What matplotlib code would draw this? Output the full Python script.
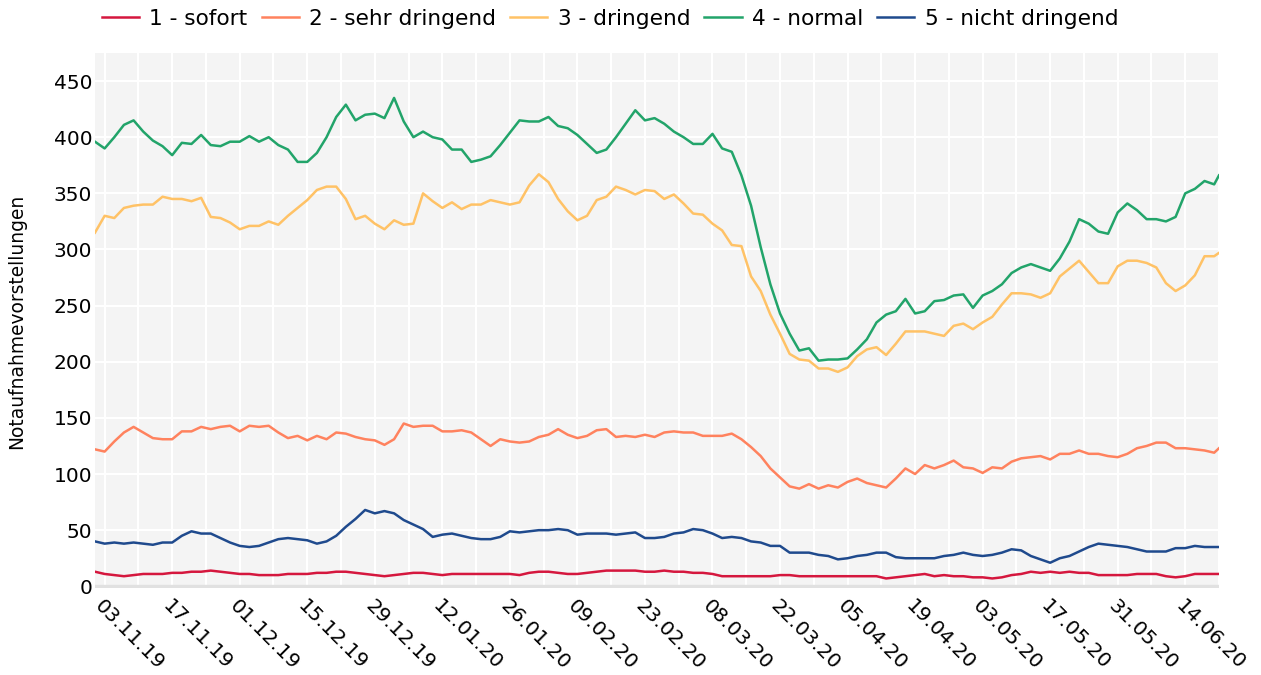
import matplotlib
matplotlib.use("Agg")
import matplotlib.pyplot as plt
import pandas as pd

# every second day, plus the last day of the series
dates = list(pd.date_range("2019-11-01", "2020-06-20", freq="2D")) + [pd.Timestamp("2020-06-21")]

sofort = [
    13, 11, 10, 9, 10, 11, 11, 11, 12, 12, 13, 13, 14, 13, 12,          # Nov
    11, 11, 10, 10, 10, 11, 11, 11, 12, 12, 13, 13, 12, 11, 10, 9,      # Dec
    10, 11, 12, 12, 11, 10, 11, 11, 11, 11, 11, 11, 11, 10, 12,         # Jan
    13, 13, 12, 11, 11, 12, 13, 14, 14, 14, 14, 13, 13, 14, 13,         # Feb
    13, 12, 12, 11, 9, 9, 9, 9, 9, 9, 10, 10, 9, 9, 9,                  # Mar
    9, 9, 9, 9, 9, 9, 7, 8, 9, 10, 11, 9, 10, 9, 9,                     # Apr
    8, 8, 7, 8, 10, 11, 13, 12, 13, 12, 13, 12, 12, 10, 10, 10,         # May
    10, 11, 11, 11, 9, 8, 9, 11, 11, 11, 11,                            # Jun
]
sehr_dringend = [
    122, 120, 129, 137, 142, 137, 132, 131, 131, 138, 138, 142, 140, 142, 143,
    138, 143, 142, 143, 137, 132, 134, 130, 134, 131, 137, 136, 133, 131, 130, 126,
    131, 145, 142, 143, 143, 138, 138, 139, 137, 131, 125, 131, 129, 128, 129,
    133, 135, 140, 135, 132, 134, 139, 140, 133, 134, 133, 135, 133, 137, 138,
    137, 137, 134, 134, 134, 136, 131, 124, 116, 105, 97, 89, 87, 91, 87,
    90, 88, 93, 96, 92, 90, 88, 96, 105, 100, 108, 105, 108, 112, 106,
    105, 101, 106, 105, 111, 114, 115, 116, 113, 118, 118, 121, 118, 118, 116, 115,
    118, 123, 125, 128, 128, 123, 123, 122, 121, 119, 123,
]
dringend = [
    315, 330, 328, 337, 339, 340, 340, 347, 345, 345, 343, 346, 329, 328, 324,
    318, 321, 321, 325, 322, 330, 337, 344, 353, 356, 356, 345, 327, 330, 323, 318,
    326, 322, 323, 350, 343, 337, 342, 336, 340, 340, 344, 342, 340, 342, 357,
    367, 360, 345, 334, 326, 330, 344, 347, 356, 353, 349, 353, 352, 345, 349,
    341, 332, 331, 323, 317, 304, 303, 276, 263, 242, 225, 207, 202, 201, 194,
    194, 191, 195, 205, 211, 213, 206, 216, 227, 227, 227, 225, 223, 232, 234,
    229, 235, 240, 251, 261, 261, 260, 257, 261, 276, 283, 290, 280, 270, 270, 285,
    290, 290, 288, 284, 270, 263, 268, 277, 294, 294, 297,
]
normal = [
    396, 390, 400, 411, 415, 405, 397, 392, 384, 395, 394, 402, 393, 392, 396,
    396, 401, 396, 400, 393, 389, 378, 378, 386, 400, 418, 429, 415, 420, 421, 417,
    435, 414, 400, 405, 400, 398, 389, 389, 378, 380, 383, 393, 404, 415, 414,
    414, 418, 410, 408, 402, 394, 386, 389, 400, 412, 424, 415, 417, 412, 405,
    400, 394, 394, 403, 390, 387, 366, 339, 302, 269, 243, 225, 210, 212, 201,
    202, 202, 203, 211, 220, 235, 242, 245, 256, 243, 245, 254, 255, 259, 260,
    248, 259, 263, 269, 279, 284, 287, 284, 281, 292, 307, 327, 323, 316, 314, 333,
    341, 335, 327, 327, 325, 329, 350, 354, 361, 358, 366,
]
nicht_dringend = [
    40, 38, 39, 38, 39, 38, 37, 39, 39, 45, 49, 47, 47, 43, 39,
    36, 35, 36, 39, 42, 43, 42, 41, 38, 40, 45, 53, 60, 68, 65, 67,
    65, 59, 55, 51, 44, 46, 47, 45, 43, 42, 42, 44, 49, 48, 49,
    50, 50, 51, 50, 46, 47, 47, 47, 46, 47, 48, 43, 43, 44, 47,
    48, 51, 50, 47, 43, 44, 43, 40, 39, 36, 36, 30, 30, 30, 28,
    27, 24, 25, 27, 28, 30, 30, 26, 25, 25, 25, 25, 27, 28, 30,
    28, 27, 28, 30, 33, 32, 27, 24, 21, 25, 27, 31, 35, 38, 37, 36,
    35, 33, 31, 31, 31, 34, 34, 36, 35, 35, 35,
]

labels = ["1 - sofort", "2 - sehr dringend", "3 - dringend", "4 - normal", "5 - nicht dringend"]
colors = ["#d5173e", "#ff825e", "#ffc266", "#22a46a", "#1f4a8d"]

# labelled ticks every two weeks, grid every week
tick_dates = pd.date_range("2019-11-03", "2020-06-14", freq="14D")
week_dates = pd.date_range("2019-11-10", "2020-06-21", freq="14D")
y_ticks = [0, 50, 100, 150, 200, 250, 300, 350, 400, 450]

W, H = 1261, 675


def plot_chart():
    fig = plt.figure(figsize=(W / 100, H / 100), dpi=100)
    ax = fig.add_axes([95 / W, 1 - 588 / H, (1219 - 95) / W, (588 - 53) / H])
    ax.set_facecolor("#f4f4f4")

    series = [sofort, sehr_dringend, dringend, normal, nicht_dringend]
    for vals, lab, col in zip(series, labels, colors):
        ax.plot(dates, vals, color=col, lw=1.8, label=lab, solid_joinstyle="round", zorder=3)

    ax.axhline(0, color="#e1e1e1", lw=2.4, zorder=2)

    ax.set_xlim(dates[0], dates[-1])
    ax.set_ylim(-1.5, 475)
    ax.set_yticks(y_ticks)
    ax.set_xticks(tick_dates)
    ax.set_xticks(week_dates, minor=True)
    ax.set_xticklabels([d.strftime("%d.%m.%y") for d in tick_dates], rotation=-45,
                       ha="left", va="top", rotation_mode="anchor", fontsize=14.5)
    ax.tick_params(axis="y", labelsize=14.5, length=0, pad=2)
    ax.tick_params(axis="x", which="both", length=0, pad=6)

    ax.grid(True, which="both", color="white", lw=1.5)
    ax.set_axisbelow(True)
    for s in ax.spines.values():
        s.set_visible(False)

    fig.text(17 / W, 1 - 321 / H, "Notaufnahmevorstellungen", rotation=90,
             ha="center", va="center", fontsize=13.4)

    handles, labs = ax.get_legend_handles_labels()
    fig.legend(handles, labs, loc="upper left", bbox_to_anchor=(102 / W, 1 - 9 / H),
               ncol=5, frameon=False, fontsize=15.6, handlelength=1.72, handletextpad=0.47,
               columnspacing=0.65, borderaxespad=0, borderpad=0)

    fig.savefig("out.png", dpi=100, facecolor="white")


if __name__ == "__main__":
    plot_chart()
